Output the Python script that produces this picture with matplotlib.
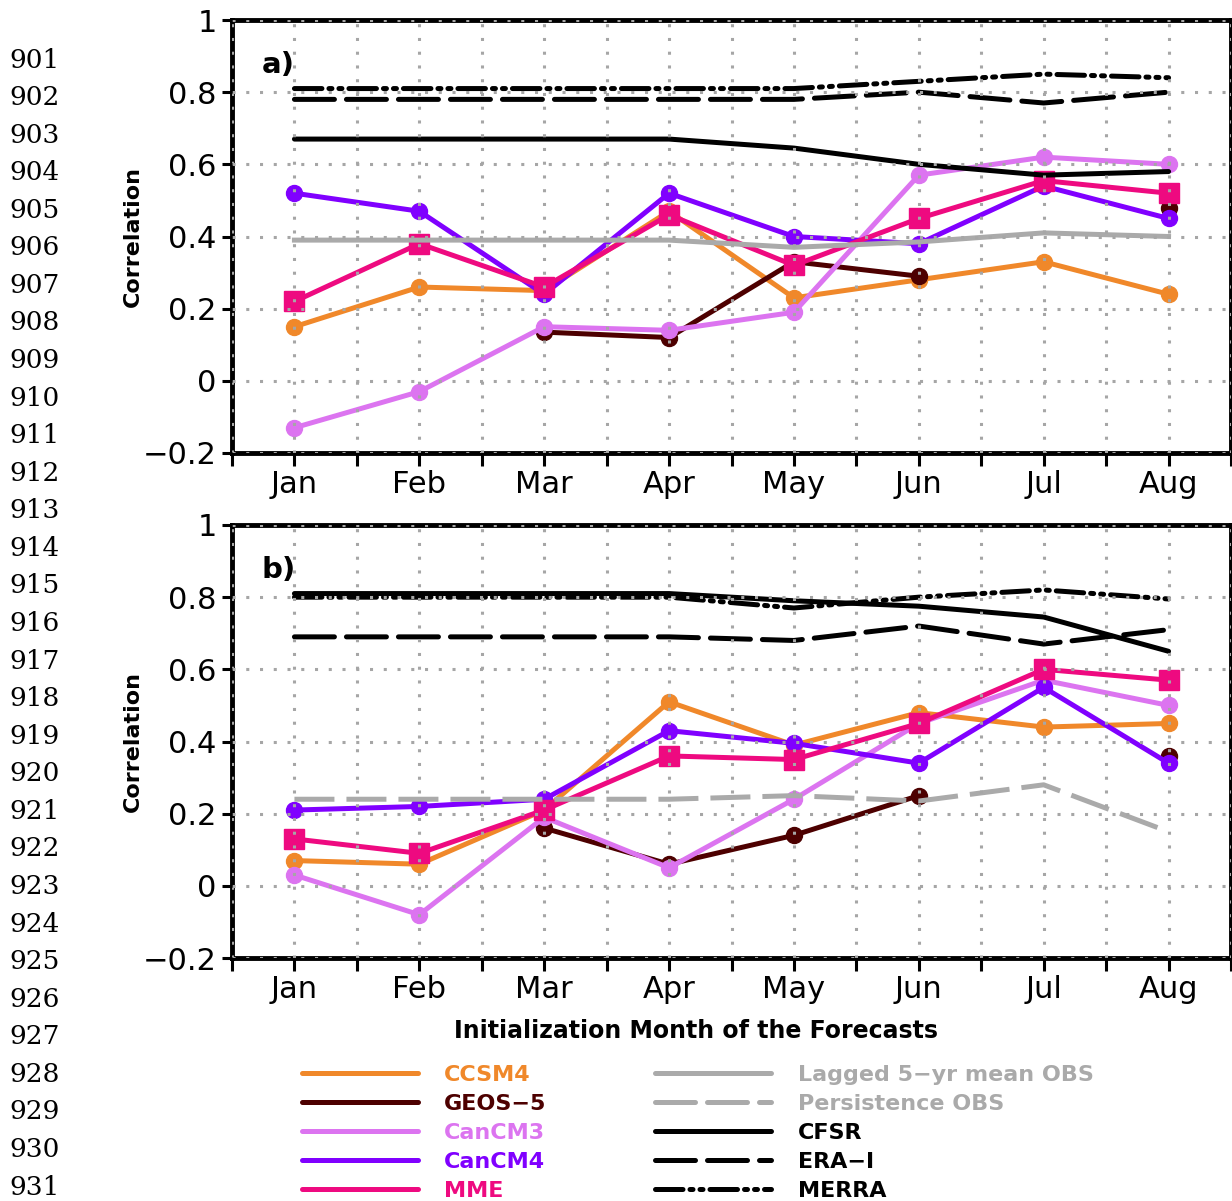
import numpy as np
import matplotlib.pyplot as plt
from matplotlib.lines import Line2D

months = ['Jan', 'Feb', 'Mar', 'Apr', 'May', 'Jun', 'Jul', 'Aug']
nan = np.nan

# panel a)
ccsm4_a = [0.15, 0.26, 0.25, 0.47, 0.23, 0.28, 0.33, 0.24]
geos5_a = [nan, nan, 0.135, 0.12, 0.33, 0.29, nan, 0.48]
cancm3_a = [-0.13, -0.03, 0.15, 0.14, 0.19, 0.57, 0.62, 0.60]
cancm4_a = [0.52, 0.47, 0.24, 0.52, 0.40, 0.38, 0.54, 0.45]
mme_a = [0.22, 0.38, 0.26, 0.46, 0.32, 0.45, 0.555, 0.52]
lagged_a = [0.39, 0.39, 0.39, 0.39, 0.37, 0.385, 0.41, 0.40]
cfsr_a = [0.67, 0.67, 0.67, 0.67, 0.645, 0.60, 0.57, 0.58]
erai_a = [0.78, 0.78, 0.78, 0.78, 0.78, 0.80, 0.77, 0.80]
merra_a = [0.81, 0.81, 0.81, 0.81, 0.81, 0.83, 0.85, 0.84]

# panel b)
ccsm4_b = [0.07, 0.06, 0.21, 0.51, 0.39, 0.48, 0.44, 0.45]
geos5_b = [nan, nan, 0.16, 0.06, 0.14, 0.25, nan, 0.36]
cancm3_b = [0.03, -0.08, 0.19, 0.05, 0.24, 0.45, 0.57, 0.50]
cancm4_b = [0.21, 0.22, 0.24, 0.43, 0.395, 0.34, 0.55, 0.34]
mme_b = [0.13, 0.09, 0.21, 0.36, 0.35, 0.45, 0.60, 0.57]
persist_b = [0.24, 0.24, 0.24, 0.24, 0.25, 0.235, 0.28, 0.15]
cfsr_b = [0.81, 0.81, 0.81, 0.81, 0.79, 0.775, 0.745, 0.65]
erai_b = [0.69, 0.69, 0.69, 0.69, 0.68, 0.72, 0.67, 0.71]
merra_b = [0.80, 0.80, 0.80, 0.80, 0.77, 0.80, 0.82, 0.795]

c_ccsm4 = '#F0882A'
c_geos5 = '#4D0000'
c_cancm3 = '#DC74F0'
c_cancm4 = '#8000FF'
c_mme = '#EE0A80'
c_grey = '#AAAAAA'

dash_long = (0, (8, 2.4))
dash_dot2 = (0, (5.5, 1.4, 0.6, 1.4, 0.6, 1.4))

LW = 3.6
x = np.arange(1, 9)

fig = plt.figure(figsize=(12.32, 12.01), dpi=100)
ax_a = fig.add_axes([232 / 1232, 1 - 453 / 1201, 999 / 1232, 433 / 1201])
ax_b = fig.add_axes([232 / 1232, 1 - 958 / 1201, 999 / 1232, 433 / 1201])


def draw_panel(ax, ccsm4, geos5, cancm3, cancm4, mme, obs, obs_ls, cfsr, erai, merra, tag):
    ax.plot(x, ccsm4, color=c_ccsm4, lw=LW, marker='o', ms=11.5, zorder=1.0)
    ax.plot(x, geos5, color=c_geos5, lw=LW, marker='o', ms=11.5, zorder=1.1)
    ax.plot(x, cancm3, color=c_cancm3, lw=LW, marker='o', ms=11.5, zorder=1.2)
    ax.plot(x, cancm4, color=c_cancm4, lw=LW, marker='o', ms=11.5, zorder=1.3)
    ax.plot(x, mme, color=c_mme, lw=LW, marker='s', ms=14, zorder=1.4)
    ax.plot(x, obs, color=c_grey, lw=LW, ls=obs_ls, zorder=1.5)
    ax.plot(x, cfsr, color='black', lw=LW, zorder=1.6, solid_capstyle='round')
    ax.plot(x, erai, color='black', lw=LW, ls=dash_long, zorder=1.6, dash_capstyle='round')
    ax.plot(x, merra, color='black', lw=LW, ls=dash_dot2, zorder=1.6, dash_capstyle='round')

    ax.set_xlim(0.5, 8.5)
    ax.set_ylim(-0.2, 1.0)
    ax.set_xticks(x)
    ax.set_xticks(np.arange(0.5, 9.0, 1.0), minor=True)
    ax.set_xticklabels(months)
    ax.set_yticks([-0.2, 0, 0.2, 0.4, 0.6, 0.8, 1.0])
    ax.set_yticklabels(['\u22120.2', '0', '0.2', '0.4', '0.6', '0.8', '1'])
    ax.tick_params(axis='x', which='both', direction='out', length=9, width=2.2,
                   labelsize=22, pad=3)
    ax.tick_params(axis='y', direction='out', length=7, width=2.2, labelsize=22, pad=4)
    ax.set_axisbelow(False)
    ax.grid(True, which='both', axis='x', color='#A6A6A6', ls=(0, (1, 3.5)), lw=2.2)
    ax.grid(True, which='major', axis='y', color='#A6A6A6', ls=(0, (1, 3.5)), lw=2.2)
    for s in ax.spines.values():
        s.set_linewidth(3.5)
        s.set_zorder(0.5)
    ax.set_ylabel('Correlation', fontsize=16, fontweight='bold')
    ax.yaxis.set_label_coords((143 - 232) / 999, 0.5)
    ax.text(0.03, 0.896, tag, transform=ax.transAxes, fontsize=21,
            fontweight='bold', va='center', ha='left')


draw_panel(ax_a, ccsm4_a, geos5_a, cancm3_a, cancm4_a, mme_a, lagged_a, '-',
           cfsr_a, erai_a, merra_a, 'a)')
draw_panel(ax_b, ccsm4_b, geos5_b, cancm3_b, cancm4_b, mme_b, persist_b, dash_long,
           cfsr_b, erai_b, merra_b, 'b)')

fig.text(696 / 1232, 1 - 1031 / 1201, 'Initialization Month of the Forecasts',
         fontsize=17, fontweight='bold', ha='center', va='center')

# legend
names = ['CCSM4', 'GEOS\u22125', 'CanCM3', 'CanCM4', 'MME',
         'Lagged 5\u2212yr mean OBS', 'Persistence OBS', 'CFSR', 'ERA\u2212I', 'MERRA']
colors = [c_ccsm4, c_geos5, c_cancm3, c_cancm4, c_mme, c_grey, c_grey,
          'black', 'black', 'black']
styles = ['-', '-', '-', '-', '-', '-', dash_long, '-', dash_long, dash_dot2]
handles = [Line2D([], [], color=c, lw=LW, ls=s, solid_capstyle='round',
                  dash_capstyle='round') for c, s in zip(colors, styles)]
leg = fig.legend(handles, names, ncol=2, loc='upper left',
                 bbox_to_anchor=(302 / 1232, 1 - 1065 / 1201),
                 frameon=False, handlelength=5.2,
                 handletextpad=1.2, columnspacing=4.9, labelspacing=0.4,
                 borderpad=0, borderaxespad=0,
                 prop={'weight': 'bold', 'size': 16})
for t, c in zip(leg.get_texts(), colors):
    t.set_color(c)

# manuscript line numbers
for i, n in enumerate(range(901, 932)):
    fig.text(9 / 1232, 1 - (60 + i * 37.57) / 1201, str(n), fontsize=19,
             family='DejaVu Serif', va='center', ha='left')

fig.savefig('out.png', dpi=100)
